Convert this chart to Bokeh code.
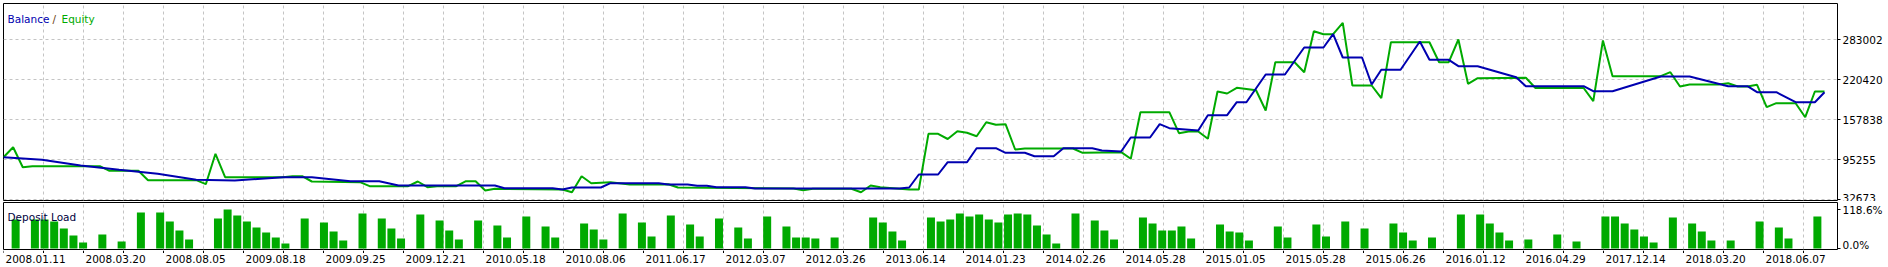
from bokeh.plotting import figure
from bokeh.layouts import column
from bokeh.models import (Range1d, FixedTicker, Grid, ColumnDataSource,
                          NumeralTickFormatter, PrintfTickFormatter)
from bokeh.transform import dodge
from bokeh.core.properties import value
from bokeh.embed import file_html
from bokeh.resources import INLINE

# ---------------- data ----------------
balance_trade = [0, 4, 8, 12, 16, 20, 24, 29, 32, 36, 39, 41, 51, 52, 57, 58, 59, 62, 63, 68,
                 69, 71, 72, 73, 74, 77, 78, 93, 94, 95, 97, 98, 100, 101, 103, 104, 106, 107,
                 109, 110, 113, 114, 116, 117, 119, 120, 121, 124, 125, 127, 128, 129, 131,
                 133, 135, 137, 138, 139, 141, 142, 143, 145, 147, 148, 150, 151, 153, 157,
                 158, 164, 165, 167, 172, 175, 179, 181, 182, 184, 186, 188, 189]
balance_value = [99323, 95255, 86337, 79610, 73352, 63964, 62869, 68032, 68032, 61774, 61774,
                 55046, 55046, 50822, 50822, 48788, 51917, 51917, 58645, 58645, 56611, 56611,
                 54577, 54577, 52386, 52386, 50353, 50353, 51917, 72256, 72256, 91500, 91500,
                 113404, 113404, 106207, 106207, 100888, 100888, 113404, 113404, 109806,
                 108241, 130145, 130145, 150954, 144695, 141097, 165035, 165035, 185374,
                 185374, 228713, 228713, 270955, 270955, 291764, 255310, 255310, 213067,
                 236066, 236066, 280343, 251711, 251711, 241698, 241698, 224488, 210407,
                 210407, 202584, 202584, 225583, 225583, 210407, 210407, 201019, 201019,
                 185374, 185374, 201019]

equity_trade = [0, 1, 2, 3, 10, 11, 14, 15, 20, 21, 22, 23, 29, 30, 31, 32, 37, 38, 42, 43,
                44, 45, 47, 48, 49, 50, 51, 58, 59, 60, 61, 63, 65, 69, 70, 82, 83, 84, 88,
                89, 90, 91, 94, 95, 96, 97, 98, 99, 100, 101, 102, 103, 104, 105, 106, 111,
                112, 116, 117, 118, 121, 122, 123, 124, 125, 126, 127, 128, 130, 131, 132,
                134, 135, 136, 137, 138, 139, 140, 142, 143, 144, 148, 149, 150, 151, 152,
                153, 158, 159, 164, 165, 166, 167, 172, 173, 174, 175, 178, 179, 180, 181,
                182, 183, 184, 186, 187, 188, 189]
equity_value = [99323, 114969, 83678, 85242, 85242, 78045, 78045, 63338, 63338, 57080, 104643,
                68032, 68032, 69597, 69597, 61304, 60209, 53951, 53951, 61304, 52386, 53951,
                53951, 61774, 61774, 47223, 49883, 48788, 44564, 69597, 58645, 60209, 56611,
                57080, 51917, 50353, 47693, 49883, 49883, 44564, 55046, 52386, 48788, 48788,
                135934, 135934, 127798, 140002, 137499, 132179, 154083, 150015, 150954,
                111370, 112935, 112935, 106207, 107146, 96820, 169728, 169728, 136873,
                139532, 139532, 128111, 202115, 198984, 207904, 204149, 172388, 247955,
                247955, 232311, 296458, 291764, 291764, 309600, 211502, 211502, 191632,
                279248, 279248, 247955, 247955, 283472, 214162, 222923, 223549, 207591,
                207591, 186939, 281907, 226053, 226053, 232311, 209937, 213067, 213067,
                215099, 209937, 209937, 212597, 177551, 183809, 183809, 161906, 202115,
                202115]

load_trade = [1, 3, 4, 5, 6, 7, 8, 10, 12, 14, 16, 17, 18, 19, 22, 23, 24, 25, 26, 27, 28, 29,
              31, 33, 34, 35, 37, 39, 40, 41, 43, 45, 46, 47, 49, 51, 52, 54, 56, 57, 60, 61,
              62, 64, 66, 67, 69, 71, 72, 74, 76, 77, 79, 81, 82, 83, 84, 86, 90, 91, 92, 93,
              96, 97, 98, 99, 100, 101, 102, 103, 104, 105, 106, 107, 108, 109, 111, 113, 114,
              115, 118, 119, 120, 121, 122, 123, 126, 127, 128, 129, 132, 133, 136, 137, 139,
              141, 144, 145, 146, 148, 151, 153, 154, 155, 156, 158, 161, 163, 166, 167, 168,
              169, 170, 171, 173, 175, 176, 177, 179, 182, 184, 185, 188]
load_pct = [88.2, 88.2, 88.2, 82.1, 60.8, 39.5, 18.2, 42.6, 21.3, 109.5, 109.5, 82.1, 54.7,
            27.4, 91.2, 118.6, 100.4, 82.1, 63.9, 48.7, 33.5, 15.2, 91.2, 79.1, 51.7, 24.3,
            106.4, 91.2, 60.8, 30.4, 103.4, 85.1, 54.7, 27.4, 85.1, 69.9, 33.5, 97.3, 66.9,
            33.5, 76.0, 57.8, 27.4, 106.4, 79.1, 36.5, 100.4, 73.0, 36.5, 91.2, 63.9, 30.4,
            97.3, 66.9, 33.5, 33.5, 30.4, 33.5, 94.3, 79.1, 51.7, 24.3, 94.3, 82.1, 88.2,
            106.4, 97.3, 103.4, 88.2, 79.1, 103.4, 106.4, 103.4, 69.9, 42.6, 15.2, 106.4,
            85.1, 54.7, 27.4, 94.3, 76.0, 54.7, 54.7, 66.9, 30.4, 73.0, 51.7, 48.7, 24.3,
            66.9, 33.5, 73.0, 36.5, 82.1, 60.8, 76.0, 48.7, 24.3, 33.5, 103.4, 103.4, 76.0,
            48.7, 24.3, 27.4, 42.6, 21.3, 97.3, 97.3, 76.0, 57.8, 36.5, 18.2, 94.3, 76.0,
            51.7, 24.3, 24.3, 82.1, 63.9, 30.4, 97.3]

y_ticks = [32673, 95255, 157838, 220420, 283002]
load_ticks = [0.0, 118.6]
date_labels = ["2008.01.11", "2008.03.20", "2008.08.05", "2009.08.18", "2009.09.25",
               "2009.12.21", "2010.05.18", "2010.08.06", "2011.06.17", "2012.03.07",
               "2012.03.26", "2013.06.14", "2014.01.23", "2014.02.26", "2014.05.28",
               "2015.01.05", "2015.05.28", "2015.06.26", "2016.01.12", "2016.04.29",
               "2017.12.14", "2018.03.20", "2018.06.07"]

# ---------------- layout / style ----------------
W = 1888
LEFT, RIGHT = 3, 51
FRAME_W = W - LEFT - RIGHT
PX_PER_TRADE = 9.635
GRID_PX = 40
BLUE = "#0000B0"
GREEN = "#00AA00"
GRID_COLOR = "#C4C4C4"
FONT = "DejaVu Sans"
FS = "10.5px"

x_end = FRAME_W / PX_PER_TRADE
grid_x = [k * GRID_PX / PX_PER_TRADE for k in range(int(FRAME_W / GRID_PX) + 1)]
label_x = grid_x[::2][:len(date_labels)]

# top panel: value axis, 40 px per tick step
TOP_H, TOP_B = 3, 1
H1 = 201
frame_h1 = H1 - TOP_H - TOP_B
step = y_ticks[1] - y_ticks[0]
y0 = y_ticks[0] - 0.7 / GRID_PX * step
y1 = y0 + frame_h1 / GRID_PX * step

common = dict(output_backend="svg", toolbar_location=None, min_border_left=LEFT,
              min_border_right=RIGHT, background_fill_color="white",
              border_fill_color="white")

p1 = figure(width=W, height=H1, x_range=Range1d(0, x_end), y_range=Range1d(y0, y1),
            x_axis_location=None, y_axis_location="right",
            min_border_top=TOP_H, min_border_bottom=TOP_B, **common)
for g in p1.grid:
    g.visible = False
p1.add_layout(Grid(dimension=0, ticker=FixedTicker(ticks=grid_x), grid_line_color=GRID_COLOR,
                   grid_line_dash="3 3"))
p1.add_layout(Grid(dimension=1, ticker=FixedTicker(ticks=y_ticks), grid_line_color=GRID_COLOR,
                   grid_line_dash="3 3"))
p1.outline_line_color = "black"
p1.outline_line_alpha = 1
ax = p1.yaxis[0]
ax.ticker = FixedTicker(ticks=y_ticks)
ax.formatter = NumeralTickFormatter(format="0")
ax.axis_line_color = None
ax.major_tick_out = 3
ax.major_tick_in = 0
ax.minor_tick_line_color = None
ax.major_label_standoff = 2
ax.major_label_text_font = FONT
ax.major_label_text_font_size = FS
ax.major_label_text_color = "black"

p1.line(equity_trade, equity_value, line_color=GREEN, line_width=2)
p1.line(balance_trade, balance_value, line_color=BLUE, line_width=2)

for txt, dx, col in [("Balance", 4, BLUE), ("/", 49, "#6a4010"), ("Equity", 58, GREEN)]:
    p1.text(x=[0], y=[y1], text=[txt], x_offset=dx, y_offset=15, text_align="left",
            text_baseline="alphabetic", text_color=col, text_font=value(FONT),
            text_font_size=FS)

# bottom panel: deposit load
H2 = 49
p2 = figure(width=W, height=H2, x_range=p1.x_range, y_range=Range1d(-3, 140),
            x_axis_location=None, y_axis_location="right",
            min_border_top=1, min_border_bottom=1, **common)
for g in p2.grid:
    g.visible = False
p2.add_layout(Grid(dimension=0, ticker=FixedTicker(ticks=grid_x), grid_line_color=GRID_COLOR,
                   grid_line_dash="3 3"))
p2.outline_line_color = "black"
src = ColumnDataSource(dict(trade=load_trade, load=load_pct))
p2.vbar(x=dodge("trade", 0.26, range=p2.x_range), top="load", bottom=0,
        width=8 / PX_PER_TRADE, fill_color=GREEN, line_color=None, source=src)
p2.text(x=[0], y=[140], text=["Deposit Load"], x_offset=4, y_offset=14.7,
        text_align="left", text_baseline="alphabetic", text_color="#000040",
        text_font=value(FONT), text_font_size=FS)
ay = p2.yaxis[0]
ay.ticker = FixedTicker(ticks=load_ticks)
ay.formatter = PrintfTickFormatter(format="%.1f%%")
ay.axis_line_color = None
ay.major_tick_out = 3
ay.major_tick_in = 0
ay.minor_tick_line_color = None
ay.major_label_standoff = 2
ay.major_label_text_font = FONT
ay.major_label_text_font_size = FS
ay.major_label_text_color = "black"

# date labels strip (with the small tick marks under the lower panel)
H3 = 267 - H1 - H2
p3 = figure(width=W, height=H3, x_range=p1.x_range, y_range=Range1d(0, 1),
            x_axis_location=None, y_axis_location=None,
            min_border_top=0, min_border_bottom=0, **common)
for g in p3.grid:
    g.visible = False
p3.outline_line_color = None
tick_len = 2.5 / H3
p3.segment(x0=grid_x, y0=[1] * len(grid_x), x1=grid_x, y1=[1 - tick_len] * len(grid_x),
           line_color="black", line_width=1)
p3.text(x=label_x, y=[0.5] * len(label_x), text=date_labels, x_offset=2,
        text_align="left", text_baseline="middle", text_color="black",
        text_font=value(FONT), text_font_size=FS)

layout = column(p1, p2, p3, spacing=0)
open("out.html", "w").write(file_html(layout, INLINE))
